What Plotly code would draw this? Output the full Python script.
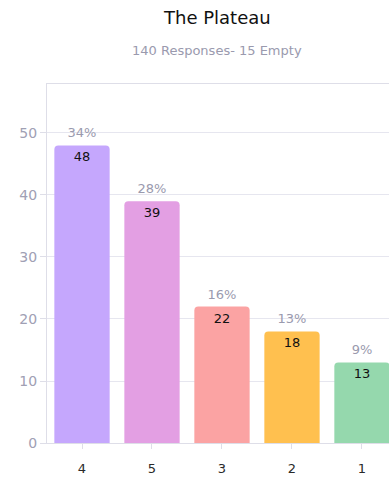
import plotly.graph_objects as go

categories = ["4", "5", "3", "2", "1"]
values = [48, 39, 22, 18, 13]
percents = ["34%", "28%", "16%", "13%", "9%"]
colors = ["#c5a7fd", "#e39fe3", "#fba3a3", "#ffc04f", "#95d8ad"]
title = "The Plateau"
subtitle = "140 Responses- 15 Empty"
y_ticks = [0, 10, 20, 30, 40, 50]

FONT = "DejaVu Sans, sans-serif"
W, H = 389, 480
ML, MR, MT, MB = 47, 0, 84, 37

fig = go.Figure()
fig.add_trace(go.Bar(
    x=categories, y=values,
    marker=dict(color=colors, cornerradius=4, line=dict(width=0)),
    text=[str(v) for v in values],
    textposition="inside", insidetextanchor="end",
    textfont=dict(color="#111111", size=13, family=FONT),
    textangle=0,
    width=0.79,
    hoverinfo="skip",
))
fig.add_trace(go.Scatter(
    x=categories, y=values, mode="markers+text",
    marker=dict(size=6, opacity=0),
    text=percents, textposition="top center",
    textfont=dict(color="#9a9aae", size=13, family=FONT),
    cliponaxis=False, hoverinfo="skip",
))

plot_h = H - MT - MB
plot_w = W - ML - MR
def py(ypix):
    return (H - MB - ypix) / plot_h
def px(xpix):
    return (xpix - ML) / plot_w

fig.update_layout(
    width=W, height=H,
    margin=dict(l=ML, r=MR, t=MT, b=MB),
    paper_bgcolor="white", plot_bgcolor="white",
    showlegend=False,
    font=dict(family=FONT),
    annotations=[
        dict(text=title, x=px(217), y=py(18), xref="paper", yref="paper",
             showarrow=False, yanchor="middle",
             font=dict(size=18, color="#111111", family=FONT)),
        dict(text=subtitle, x=px(217), y=py(50), xref="paper", yref="paper",
             showarrow=False, yanchor="middle",
             font=dict(size=13, color="#9a9aae", family=FONT)),
    ],
)

fig.update_xaxes(
    type="category", range=[-0.5, 4.386],
    showline=True, linecolor="#dedee8", linewidth=1, mirror=True,
    ticks="outside", ticklen=5, tickcolor="#dedee8",
    ticklabelstandoff=8,
    tickfont=dict(size=13, color="#2a2a2a", family=FONT),
    showgrid=False,
)
fig.update_yaxes(
    range=[0, 57.9], tickvals=y_ticks,
    showline=True, linecolor="#dedee8", linewidth=1,
    ticks="outside", ticklen=6, tickcolor="#dedee8",
    gridcolor="#e6e6ef", gridwidth=1, zeroline=False,
    tickfont=dict(size=14, color="#a0a0b4", family=FONT),
)

fig.write_html(
    "out.html",
    config={"displayModeBar": False},
    post_script="document.body.style.margin='0';document.body.style.overflow='hidden';",
)
